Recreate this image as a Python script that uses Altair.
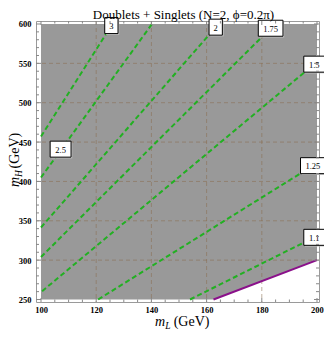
import altair as alt
import pandas as pd

title_text = "Doublets + Singlets (N=2, ϕ=0.2π)"

# contour lines (straight), their start / end points and label positions
levels = ["3", "2.5", "2", "1.75", "1.5", "1.25", "1.1"]
start_x = [100.0, 100.0, 100.0, 100.0, 100.4, 120.7, 154.0]
start_y = [457.0, 405.0, 341.5, 304.0, 260.5, 250.0, 250.0]
end_x = [125.5, 140.2, 163.3, 183.2, 199.0, 198.5, 199.0]
end_y = [598.0, 600.0, 596.0, 594.6, 549.0, 420.0, 329.0]
label_x = [125.5, 107.1, 163.3, 183.2, 199.0, 198.5, 199.0]
label_y = [598.0, 441.0, 596.0, 594.6, 549.0, 420.0, 329.0]

# purple boundary line
bound_x = [162.5, 200.0]
bound_y = [250.0, 300.0]

# shaded region (above the boundary)
region_x = [100.0, 162.5, 200.0]
region_lo = [250.0, 250.0, 300.0]
region_hi = [600.0, 600.0, 600.0]

grid_x = [120, 140, 160, 180]
grid_y = [300, 350, 400, 450, 500, 550]

x_major = [100, 120, 140, 160, 180, 200]
x_minor = [105, 110, 115, 125, 130, 135, 145, 150, 155, 165, 170, 175, 185, 190, 195]
y_major = [250, 300, 350, 400, 450, 500, 550, 600]
y_minor = [260, 270, 280, 290, 310, 320, 330, 340, 360, 370, 380, 390,
           410, 420, 430, 440, 460, 470, 480, 490, 510, 520, 530, 540,
           560, 570, 580, 590]

W, H = 283, 281
SERIF = "Liberation Serif"

xs = alt.Scale(domain=[98.188, 200.725], nice=False, zero=False)
ys = alt.Scale(domain=[246.82, 603.81], nice=False, zero=False)

xaxis = alt.Axis(values=x_major, ticks=False, domain=False, grid=False, title=None,
                 labelFont=SERIF, labelFontWeight="bold", labelFontSize=8.5,
                 labelColor="black", labelPadding=3, labelFlush=False, format="d")
yaxis = alt.Axis(values=y_major, ticks=False, domain=False, grid=False, title=None,
                 labelFont=SERIF, labelFontWeight="bold", labelFontSize=8.5,
                 labelColor="black", labelPadding=5, labelFlush=False, format="d")

# shaded region
reg_df = pd.DataFrame({"x": region_x, "lo": region_lo, "hi": region_hi})
region = alt.Chart(reg_df).mark_area(color="#999999", opacity=1).encode(
    x=alt.X("x:Q", scale=xs, axis=xaxis),
    y=alt.Y("hi:Q", scale=ys, axis=yaxis),
    y2="lo:Q",
)

# grid lines
gx = alt.Chart(pd.DataFrame({"g": grid_x})).mark_rule(
    color="#8b6e50", opacity=0.55, strokeWidth=1, strokeDash=[4, 3]
).encode(x=alt.X("g:Q", scale=xs, axis=xaxis))
gy = alt.Chart(pd.DataFrame({"g": grid_y})).mark_rule(
    color="#8b6e50", opacity=0.55, strokeWidth=1, strokeDash=[4, 3]
).encode(y=alt.Y("g:Q", scale=ys, axis=yaxis))

# contour lines
seg_df = pd.DataFrame({"lev": levels, "x0": start_x, "y0": start_y, "x1": end_x, "y1": end_y})
contours = alt.Chart(seg_df).mark_rule(
    color="#22b022", strokeWidth=2, strokeDash=[5, 3]
).encode(
    x=alt.X("x0:Q", scale=xs, axis=xaxis),
    y=alt.Y("y0:Q", scale=ys, axis=yaxis),
    x2="x1:Q", y2="y1:Q",
)

# boundary
bnd = alt.Chart(pd.DataFrame({"x": bound_x, "y": bound_y})).mark_line(
    color="#8a108a", strokeWidth=2
).encode(x=alt.X("x:Q", scale=xs, axis=xaxis), y=alt.Y("y:Q", scale=ys, axis=yaxis))

# label boxes
def box_path(txt, d=0.0):
    hw = (9.5 + 3.8 * len(txt)) / 2
    hh = 8
    return f"M{-hw + d},{-hh + d}H{hw + d}V{hh + d}H{-hw + d}Z"

lab_df = pd.DataFrame({"lev": levels, "x": label_x, "y": label_y})
lab_df["shape"] = [box_path(t) for t in levels]
lab_df["shadow"] = [box_path(t, 1.2) for t in levels]

shadow = alt.Chart(lab_df).mark_point(
    size=4, filled=True, fill="#c4c4c4", strokeWidth=0, opacity=1
).encode(
    x=alt.X("x:Q", scale=xs, axis=xaxis), y=alt.Y("y:Q", scale=ys, axis=yaxis),
    shape=alt.Shape("shadow:N", scale=None),
)
boxes = alt.Chart(lab_df).mark_point(
    size=4, filled=True, fill="white", stroke="black", strokeWidth=1, opacity=1
).encode(
    x=alt.X("x:Q", scale=xs, axis=xaxis), y=alt.Y("y:Q", scale=ys, axis=yaxis),
    shape=alt.Shape("shape:N", scale=None),
)
texts = alt.Chart(lab_df).mark_text(
    font=SERIF, fontSize=8.5, color="black", align="center", baseline="middle", dy=0.5
).encode(
    x=alt.X("x:Q", scale=xs, axis=xaxis), y=alt.Y("y:Q", scale=ys, axis=yaxis),
    text="lev:N",
)

# frame ticks (inward)
def xticks(vals, L):
    df = pd.DataFrame({"v": vals})
    b = alt.Chart(df).mark_rule(color="#888888", strokeWidth=1).encode(
        x=alt.X("v:Q", scale=xs, axis=xaxis), y=alt.value(H), y2=alt.value(H - L))
    t = alt.Chart(df).mark_rule(color="#888888", strokeWidth=1).encode(
        x=alt.X("v:Q", scale=xs, axis=xaxis), y=alt.value(0), y2=alt.value(L))
    return [b, t]

def yticks(vals, L):
    df = pd.DataFrame({"v": vals})
    l = alt.Chart(df).mark_rule(color="#888888", strokeWidth=1).encode(
        y=alt.Y("v:Q", scale=ys, axis=yaxis), x=alt.value(0), x2=alt.value(L))
    r = alt.Chart(df).mark_rule(color="#888888", strokeWidth=1).encode(
        y=alt.Y("v:Q", scale=ys, axis=yaxis), x=alt.value(W), x2=alt.value(W - L))
    return [l, r]

ticks = xticks(x_major, 4) + xticks(x_minor, 2.5) + yticks(y_major, 5) + yticks(y_minor, 3)

# titles (text)
def txt(s, x, y, size, style="normal", angle=0, align="left"):
    return alt.Chart(pd.DataFrame({"t": [s]})).mark_text(
        font=SERIF, fontSize=size, fontStyle=style, color="black",
        align=align, baseline="alphabetic", angle=angle
    ).encode(text="t:N", x=alt.value(x), y=alt.value(y))

titles = [
    txt(title_text, 147.5, -2.5, 13, align="center"),
    txt("m", 119, 305, 14, "italic"),
    txt("L", 129.3, 308, 9.5, "italic"),
    txt("(GeV)", 137.7, 305, 14),
    txt("m", -17, 166, 14, "italic", angle=270),
    txt("H", -13.8, 155.9, 9.5, "italic", angle=270),
    txt("(GeV)", -17, 147.5, 14, angle=270),
]

chart = alt.layer(region, gx, gy, contours, bnd, shadow, boxes, texts, *ticks, *titles).properties(
    width=W, height=H,
    autosize=alt.AutoSizeParams(type="none"),
    padding={"left": 28, "top": 13, "right": 5, "bottom": 28},
).configure_view(stroke="#9a9a9a", strokeWidth=1)

chart.save("out.html", embed_options={"renderer": "svg", "actions": False})
